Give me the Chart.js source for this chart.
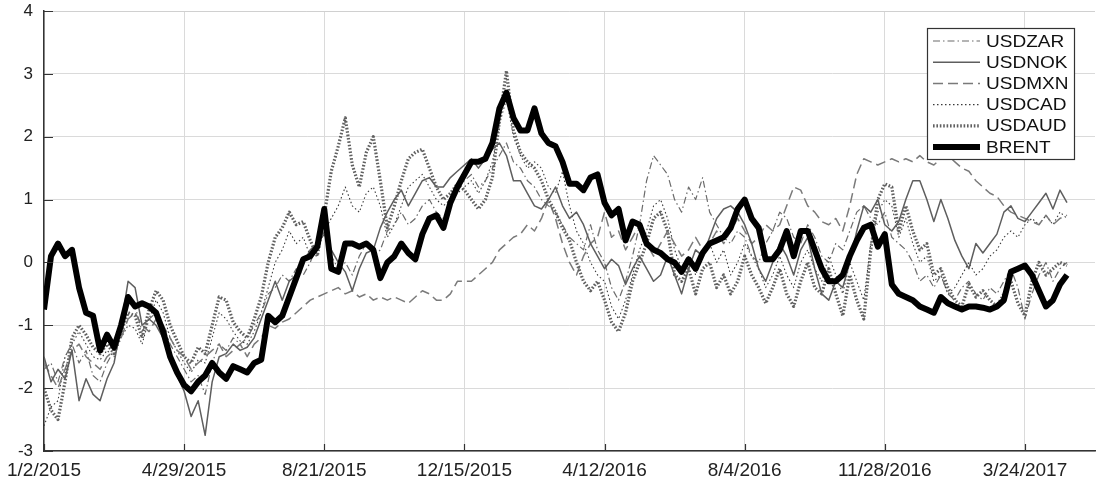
<!DOCTYPE html>
<html>
<head>
<meta charset="utf-8">
<script src="https://cdn.jsdelivr.net/npm/chart.js@4/dist/chart.umd.min.js"></script>
<style>
  html, body { margin: 0; padding: 0; background: #ffffff; }
  #wrap { width: 1097px; height: 482px; position: relative; }
</style>
</head>
<body>
<div id="wrap"><canvas id="c" width="1097" height="482"></canvas></div>
<script>
// Trading-day index of each sample (one sample every 4 trading days)
const STEP = 4;

// Date labels shown on the x axis and the trading-day index they sit at
const tickValues = [0, 80, 160, 240, 320, 400, 480, 560];
const tickLabels = ['1/2/2015', '4/29/2015', '8/21/2015', '12/15/2015', '4/12/2016', '8/4/2016', '11/28/2016', '3/24/2017'];

// Standardised series
const usdzar = [
  -1.7,-1.6,-1.9,-1.5,-1.3,-1.6,-1.4,-1.8,-1.9,-1.6,-1.4,-1.0,-0.6,-0.7,-1.1,-0.9,-0.8,-1.0,-1.3,-1.5,
  -1.7,-1.9,-1.8,-2.1,-1.6,-1.3,-1.4,-1.2,-1.3,-1.2,-1.0,-0.8,-0.5,-0.4,-0.2,-0.3,-0.1,-0.2,0.0,0.3,
  0.5,0.1,-0.1,0.0,-0.2,0.1,0.3,0.1,0.2,0.5,0.6,0.8,0.6,0.7,0.9,1.0,0.8,0.7,0.9,1.2,
  1.3,1.4,1.2,1.3,1.5,1.7,1.9,1.6,1.5,1.3,1.2,1.0,0.9,0.8,0.6,0.4,0.3,0.2,0.6,0.2,
  0.0,-0.4,-0.6,-0.3,0.1,0.6,1.3,1.7,1.55,1.4,1.0,0.8,1.2,1.0,1.35,0.8,0.6,0.4,0.3,0.5,
  0.4,0.1,0.0,0.3,0.5,0.8,0.7,0.4,0.3,0.6,0.4,0.1,0.0,0.3,0.2,0.5,0.8,0.9,0.7,0.6,
  0.8,0.4,0.3,0.2,0.0,-0.3,-0.2,-0.4,-0.2,-0.5,-0.6,-0.4,-0.3,-0.5,-0.6,-0.4,-0.5,-0.3,-0.1,-0.4,
  -0.9,-0.5,-0.2,0.0,-0.3,-0.1,0.0
];
const usdnok = [
  -1.5,-1.9,-1.7,-1.85,-1.4,-2.2,-1.85,-2.1,-2.2,-1.85,-1.6,-1.0,-0.3,-0.4,-1.0,-0.9,-1.0,-1.2,-1.55,-1.8,
  -2.05,-2.45,-2.2,-2.75,-1.9,-1.5,-1.45,-1.3,-1.4,-1.35,-1.2,-0.9,-0.6,-0.3,-0.6,-0.3,-0.2,0.0,0.2,0.3,
  0.45,0.2,0.0,-0.15,-0.45,-0.1,0.15,0.2,0.55,0.8,1.0,1.15,0.9,1.1,1.3,1.35,1.2,1.2,1.35,1.45,
  1.55,1.65,1.5,1.65,1.8,1.9,1.7,1.3,1.3,1.1,0.9,0.85,1.0,1.2,0.9,0.7,0.8,0.6,0.3,0.1,
  -0.1,0.05,-0.05,-0.35,-0.1,0.1,-0.1,-0.3,-0.2,0.1,-0.2,-0.5,-0.1,0.2,0.1,0.4,0.7,0.85,0.9,0.8,
  0.6,0.3,-0.1,-0.3,0.0,0.3,0.1,-0.2,0.2,0.4,-0.1,-0.5,-0.6,-0.3,-0.4,0.0,0.5,0.9,0.8,1.0,
  0.6,0.5,0.65,1.0,1.3,1.3,1.0,0.65,1.0,0.7,0.35,0.1,-0.1,0.3,0.15,0.3,0.45,0.8,0.9,0.7,
  0.65,0.8,0.95,1.1,0.85,1.15,0.95
];
const usdmxn = [
  -1.6,-1.8,-2.0,-1.7,-1.4,-1.3,-1.5,-1.6,-1.7,-1.5,-1.4,-1.2,-0.9,-0.8,-1.0,-1.1,-0.9,-1.0,-1.2,-1.4,
  -1.5,-1.7,-1.6,-1.5,-1.4,-1.3,-1.5,-1.4,-1.3,-1.5,-1.3,-1.2,-1.0,-1.05,-0.95,-0.9,-0.8,-0.7,-0.6,-0.55,
  -0.5,-0.45,-0.4,-0.5,-0.45,-0.55,-0.5,-0.6,-0.55,-0.6,-0.55,-0.6,-0.65,-0.55,-0.45,-0.5,-0.6,-0.6,-0.5,-0.3,
  -0.3,-0.3,-0.2,-0.1,0.0,0.2,0.3,0.4,0.45,0.6,0.5,0.7,1.0,0.7,0.3,0.0,-0.2,0.1,0.3,0.4,
  0.8,0.4,0.5,0.2,0.4,0.6,0.3,0.1,0.3,0.5,0.3,0.1,0.2,0.4,0.2,0.3,0.5,0.3,0.5,0.7,
  0.5,0.3,0.4,0.6,0.5,0.6,0.9,1.2,1.15,0.9,0.8,0.65,0.6,0.7,0.5,0.9,1.4,1.65,1.6,1.55,
  1.6,1.65,1.6,1.65,1.6,1.7,1.6,1.55,1.65,1.7,1.6,1.5,1.45,1.3,1.2,1.1,1.05,0.9,0.8,0.75,
  0.7,0.65,0.6,0.75,0.6,0.7,0.75
];
const usdcad = [
  -2.6,-2.3,-2.2,-1.5,-1.3,-1.1,-1.3,-1.5,-1.55,-1.4,-1.5,-1.2,-1.0,-1.05,-1.3,-0.9,-0.6,-0.8,-1.2,-1.4,
  -1.6,-1.75,-1.55,-1.6,-1.2,-0.8,-0.9,-1.1,-1.25,-1.3,-1.1,-0.8,-0.4,0.0,0.2,0.5,0.3,0.4,0.1,0.2,
  0.5,0.7,0.9,1.2,0.9,0.8,1.1,1.2,0.9,0.4,0.6,0.9,1.2,1.3,1.4,1.2,1.0,0.9,1.0,1.1,
  1.2,1.3,1.1,1.3,1.6,2.2,2.6,2.0,1.7,1.5,1.6,1.5,1.2,1.1,1.45,0.9,0.5,0.3,0.0,-0.2,
  -0.3,-0.7,-0.9,-0.6,-0.2,0.2,0.5,0.9,1.0,0.7,0.2,-0.1,0.1,-0.2,0.1,0.3,0.0,0.2,-0.2,0.0,
  0.3,0.1,-0.1,-0.4,-0.2,0.1,-0.2,-0.4,0.0,0.2,-0.1,-0.3,0.1,-0.2,-0.5,0.0,-0.3,-0.6,0.3,0.8,
  1.0,0.9,0.4,0.7,0.3,0.0,0.1,-0.3,-0.2,-0.5,-0.4,-0.2,0.0,-0.2,-0.1,0.1,0.2,0.4,0.5,0.4,
  0.6,0.7,0.6,0.75,0.6,0.8,0.7
];
const usdaud = [
  -2.0,-2.35,-2.5,-1.9,-1.2,-1.0,-1.15,-1.35,-1.45,-1.3,-1.45,-1.1,-0.8,-0.85,-1.2,-0.75,-0.45,-0.6,-1.0,-1.25,
  -1.5,-1.6,-1.35,-1.45,-1.0,-0.55,-0.6,-0.95,-1.1,-1.2,-0.9,-0.55,0.0,0.4,0.55,0.8,0.6,0.65,0.35,0.1,
  0.75,1.45,1.85,2.3,1.55,1.2,1.75,2.0,1.3,0.55,0.9,1.3,1.65,1.75,1.8,1.5,1.2,1.0,1.1,1.25,
  1.15,1.0,0.85,1.0,1.35,2.25,3.05,2.1,1.75,1.6,1.5,1.3,1.0,0.8,0.55,0.35,0.0,-0.3,-0.45,-0.3,
  -0.6,-0.95,-1.1,-0.8,-0.3,0.0,0.3,0.7,0.8,0.5,-0.2,-0.3,-0.1,-0.5,-0.1,0.0,-0.4,-0.2,-0.5,-0.3,
  0.1,-0.2,-0.4,-0.65,-0.4,-0.1,-0.5,-0.7,-0.3,0.0,-0.4,-0.5,-0.1,-0.5,-0.85,-0.2,-0.6,-0.9,0.2,1.0,
  1.25,1.2,0.5,0.9,0.5,0.2,0.3,-0.2,-0.1,-0.4,-0.6,-0.7,-0.35,-0.55,-0.45,-0.6,-0.7,-0.5,-0.3,-0.65,
  -0.85,-0.3,0.0,-0.2,-0.1,0.0,-0.05
];
const brent = [
  -0.75,0.1,0.3,0.1,0.2,-0.4,-0.8,-0.85,-1.4,-1.15,-1.35,-1.0,-0.55,-0.7,-0.65,-0.7,-0.8,-1.1,-1.5,-1.75,
  -1.95,-2.05,-1.9,-1.8,-1.6,-1.75,-1.85,-1.65,-1.7,-1.75,-1.6,-1.55,-0.85,-0.95,-0.85,-0.55,-0.25,0.05,0.1,0.25,
  0.85,-0.1,-0.15,0.3,0.3,0.25,0.3,0.2,-0.25,0.0,0.1,0.3,0.15,0.05,0.45,0.7,0.75,0.55,0.95,1.2,
  1.4,1.6,1.6,1.65,1.9,2.45,2.7,2.3,2.1,2.1,2.45,2.05,1.9,1.85,1.6,1.25,1.25,1.15,1.35,1.4,
  0.95,0.75,0.85,0.35,0.65,0.6,0.3,0.2,0.15,0.05,0.0,-0.15,0.05,-0.1,0.15,0.3,0.35,0.4,0.55,0.85,
  1.0,0.7,0.55,0.05,0.05,0.2,0.5,0.1,0.5,0.5,0.2,-0.1,-0.3,-0.3,-0.2,0.1,0.35,0.55,0.6,0.25,
  0.45,-0.35,-0.5,-0.55,-0.6,-0.7,-0.75,-0.8,-0.55,-0.65,-0.7,-0.75,-0.7,-0.7,-0.72,-0.75,-0.7,-0.6,-0.15,-0.1,
  -0.05,-0.2,-0.45,-0.7,-0.6,-0.35,-0.2
];

const seriesNames = ['USDZAR', 'USDNOK', 'USDMXN', 'USDCAD', 'USDAUD', 'BRENT'];
const seriesValues = [usdzar, usdnok, usdmxn, usdcad, usdaud, brent];

// Line styles per series (same order as the names)
const styles = [
  { color: '#6b6b6b', width: 1.2, dash: [7, 3, 1.5, 3], order: 3 },
  { color: '#5e5e5e', width: 1.5, dash: [], order: 2 },
  { color: '#7a7a7a', width: 1.5, dash: [10, 5], order: 4 },
  { color: '#3a3a3a', width: 1.1, dash: [1.5, 2.5], order: 5 },
  { color: '#606060', width: 3.2, dash: [1.6, 1.8], order: 1 },
  { color: '#000000', width: 6, dash: [], order: 0 }
];

const datasets = seriesNames.map((name, i) => ({
  label: name,
  data: seriesValues[i].map((v, k) => ({ x: k * STEP, y: v })),
  borderColor: styles[i].color,
  borderWidth: styles[i].width,
  borderDash: styles[i].dash,
  borderCapStyle: 'butt',
  borderJoinStyle: 'round',
  pointRadius: 0,
  tension: 0,
  fill: false,
  order: styles[i].order
}));

// Inward tick marks and the light frame along the top of the plot
const frameTicks = {
  id: 'frameTicks',
  afterDraw(chart) {
    const { ctx, chartArea: a, scales } = chart;
    ctx.save();
    ctx.strokeStyle = '#d0d0d0';
    ctx.lineWidth = 1;
    ctx.beginPath();
    ctx.moveTo(a.left, a.top + 0.5);
    ctx.lineTo(a.right, a.top + 0.5);
    ctx.stroke();
    ctx.strokeStyle = '#333';
    ctx.lineWidth = 1.2;
    ctx.beginPath();
    scales.x.ticks.forEach(t => {
      const px = Math.round(scales.x.getPixelForValue(t.value)) + 0.5;
      ctx.moveTo(px, a.bottom);
      ctx.lineTo(px, a.bottom - 7);
    });
    scales.y.ticks.forEach(t => {
      const py = Math.round(scales.y.getPixelForValue(t.value)) + 0.5;
      ctx.moveTo(a.left, py);
      ctx.lineTo(a.left + 9, py);
    });
    ctx.stroke();
    ctx.restore();
  }
};

// Boxed legend inside the top-right corner of the plot
const boxLegend = {
  id: 'boxLegend',
  afterDraw(chart) {
    const { ctx, chartArea: a } = chart;
    const x0 = a.right - 168, y0 = a.top + 17, w = 147, h = 131;
    ctx.save();
    ctx.fillStyle = '#ffffff';
    ctx.fillRect(x0, y0, w, h);
    ctx.strokeStyle = '#333';
    ctx.lineWidth = 1.2;
    ctx.strokeRect(x0 + 0.5, y0 + 0.5, w, h);
    chart.data.datasets.forEach((ds, i) => {
      const cy = y0 + 13 + i * 21.2;
      ctx.beginPath();
      ctx.setLineDash(ds.borderDash);
      ctx.lineCap = 'butt';
      ctx.strokeStyle = ds.borderColor;
      ctx.lineWidth = ds.borderWidth;
      ctx.moveTo(x0 + 6, cy);
      ctx.lineTo(x0 + 53, cy);
      ctx.stroke();
      ctx.setLineDash([]);
      ctx.fillStyle = '#111';
      ctx.font = '17px "Liberation Sans", Arial, sans-serif';
      ctx.textBaseline = 'middle';
      ctx.textAlign = 'left';
      // slightly widened lettering
      ctx.save();
      ctx.translate(x0 + 59, cy + 1);
      ctx.scale(1.12, 1);
      ctx.fillText(ds.label, 0, 0);
      ctx.restore();
    });
    ctx.restore();
  }
};

new Chart(document.getElementById('c'), {
  type: 'line',
  data: { datasets },
  options: {
    responsive: false,
    devicePixelRatio: 1,
    animation: false,
    layout: { padding: { top: 11, right: 2, left: 0, bottom: 0 } },
    plugins: { legend: { display: false }, tooltip: { enabled: false } },
    scales: {
      x: {
        type: 'linear',
        min: 0,
        max: 600,
        afterBuildTicks(s) { s.ticks = tickValues.map(v => ({ value: v })); },
        afterFit(s) { s.height = 31; s.paddingLeft = 0; s.paddingRight = 0; },
        grid: { color: '#dadada', lineWidth: 1, drawTicks: false },
        border: { display: true, color: '#333', width: 1.5 },
        ticks: {
          autoSkip: false,
          maxRotation: 0,
          padding: 8,
          color: '#222',
          font: { family: '"Liberation Sans", Arial, sans-serif', size: 19 },
          callback(v) {
            const i = tickValues.indexOf(v);
            return i >= 0 ? tickLabels[i] : '';
          }
        }
      },
      y: {
        min: -3,
        max: 4,
        afterFit(s) { s.width = 44; s.paddingTop = 0; s.paddingBottom = 0; },
        grid: { color: '#dadada', lineWidth: 1, drawTicks: false },
        border: { display: true, color: '#333', width: 1.5 },
        ticks: {
          stepSize: 1,
          padding: 11,
          color: '#222',
          font: { family: '"Liberation Sans", Arial, sans-serif', size: 17 }
        }
      }
    }
  },
  plugins: [frameTicks, boxLegend]
});
</script>
</body>
</html>
